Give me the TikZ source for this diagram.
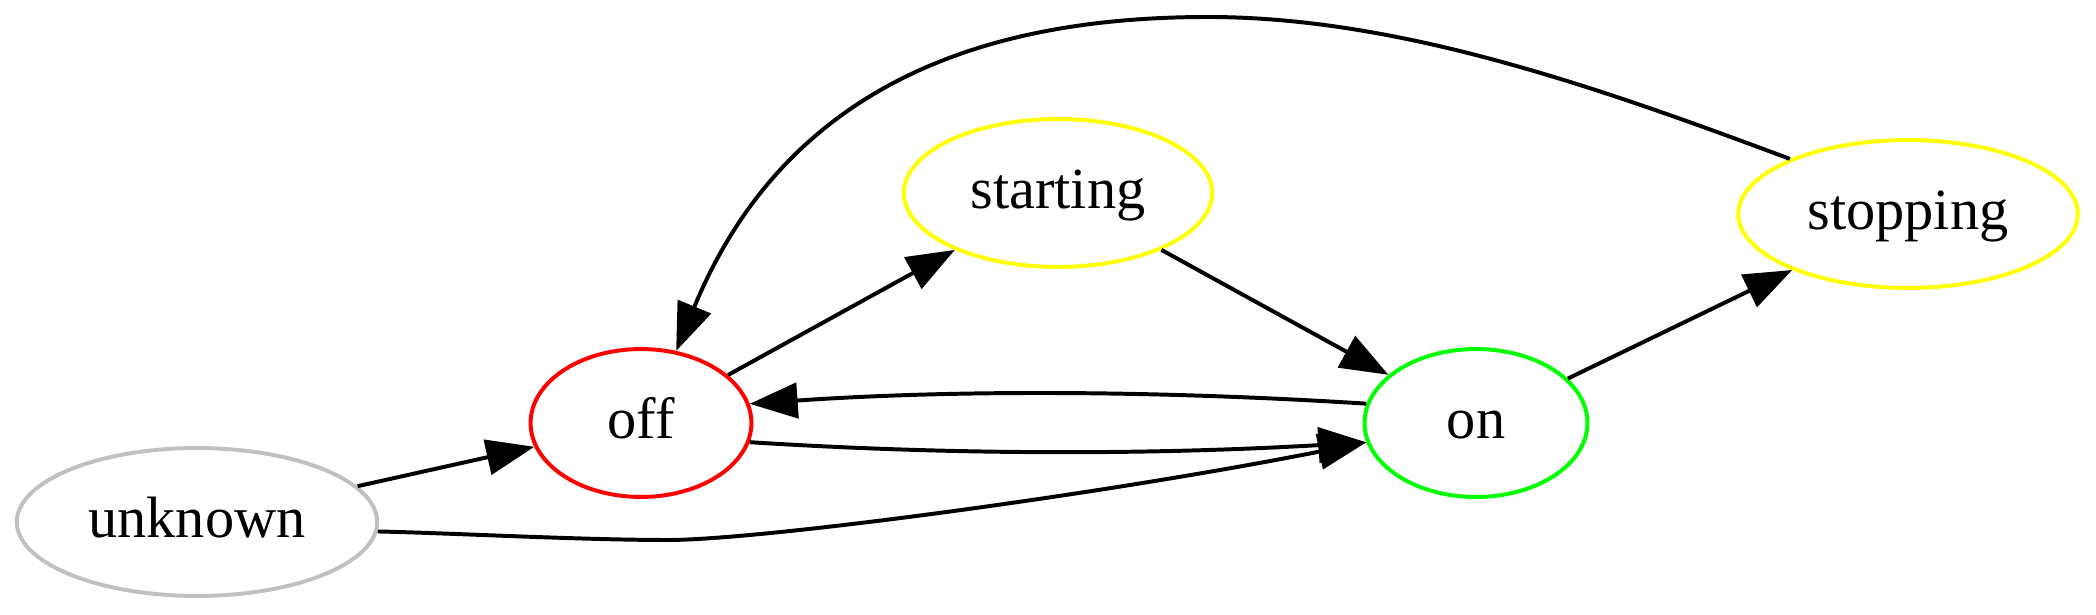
\documentclass[tikz,border=0pt]{standalone}
\usepackage{fontspec}
\setmainfont{Liberation Serif}
\usetikzlibrary{shapes.geometric,arrows.meta}
\definecolor{gvgray}{HTML}{C0C0C0}
\definecolor{gvred}{HTML}{FF0000}
\definecolor{gvgreen}{HTML}{00FF00}
\definecolor{gvyellow}{HTML}{FFFF00}
\tikzset{
  state/.style={ellipse, draw, line width=0.95pt, inner sep=0pt, minimum height=35.5pt,
    font=\fontsize{14}{16}\selectfont, text height=10pt, text depth=2.32pt},
  edge/.style={draw, line width=0.95pt, -{Triangle[length=11.5pt,width=8.5pt]}},
}
\begin{document}
\begin{tikzpicture}[x=0.24pt,y=-0.24pt]
\useasboundingbox (0,0) rectangle (2096,615);
\node[state, draw=gvgray, minimum width=86.5pt] (unknown) at (197,522) {unknown};
\node[state, draw=gvred, minimum width=53pt] (off) at (641,423) {off};
\node[state, draw=gvgreen, minimum width=53.5pt] (on) at (1476,423) {on};
\node[state, draw=gvyellow, minimum width=74pt] (starting) at (1058,193) {starting};
\node[state, draw=gvyellow, minimum width=81.5pt] (stopping) at (1908,214) {stopping};

\draw[edge] (unknown) -- (off);
\draw[edge] (off) -- (starting);
\draw[edge] (starting) -- (on);
\draw[edge] (on) -- (stopping);
\draw[edge] (on.170) .. controls (1150,390) and (950,390) .. (off.10);
\draw[edge] (off.-10) .. controls (950,455) and (1150,455) .. (on.190);
\draw[edge] (unknown.-3) .. controls (450,533) and (580,540) .. (668,540)
   .. controls (760,540) and (1100,495) .. (on.190);
\draw[edge] (stopping.155) .. controls (1600,88) and (1400,17) .. (1208,17)
   .. controls (1000,17) and (790,75) .. (off.64);
\end{tikzpicture}
\end{document}
